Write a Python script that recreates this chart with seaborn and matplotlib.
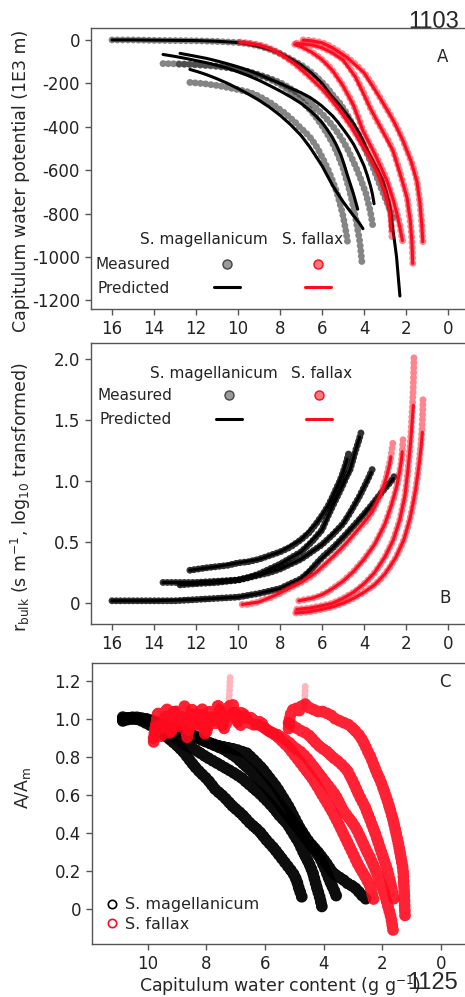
import numpy as np
import pandas as pd
import matplotlib
matplotlib.use("Agg")
import matplotlib.pyplot as plt
import seaborn as sns
from matplotlib.lines import Line2D

# ---------------- Panel A: capitulum water potential (1E3 m) ----------------
a_mag_meas_x = [
    [16, 15, 14, 13, 12, 11, 10, 9.5, 9, 8.5, 8, 7.5, 7, 6.7, 6.43, 6.1, 5.8, 5.5, 5.14, 4.85, 4.6, 4.35, 4.1, 3.85, 3.6, 3.4, 3.2, 3.05, 2.9, 2.8, 2.7, 2.62, 2.55],
    [13.57, 13, 12.5, 12, 11.5, 11, 10.6, 10.24, 9.9, 9.5, 9.1, 8.62, 8.3, 8, 7.76, 7.52, 7.25, 7, 6.78, 6.57, 6.3, 6, 5.75, 5.5, 5.25, 5, 4.8, 4.6, 4.4, 4.2, 4.05, 3.9, 3.8, 3.7, 3.63, 3.57],
    [12.8, 12.4, 12, 11.5, 11, 10.5, 10, 9.5, 9, 8.5, 8, 7.5, 7, 6.75, 6.5, 6.25, 6, 5.75, 5.5, 5.25, 5, 4.85, 4.7, 4.55, 4.4, 4.3, 4.2, 4.15, 4.1],
    [12.29, 11.9, 11.5, 11, 10.6, 10.2, 9.8, 9.43, 9.1, 8.8, 8.45, 8.14, 7.8, 7.5, 7.25, 7.05, 6.8, 6.57, 6.3, 6.1, 5.9, 5.7, 5.5, 5.3, 5.15, 5.0, 4.88, 4.76],
]
a_mag_meas_y = [
    [0, 0, -2, -3, -4, -7, -12, -18, -28, -43, -62, -88, -115, -135, -155, -185, -215, -252, -293, -335, -380, -425, -470, -525, -580, -630, -680, -715, -750, -775, -800, -820, -840],
    [-109, -110, -111, -113, -116, -120, -125, -131, -138, -148, -160, -173, -184, -196, -209, -223, -239, -255, -271, -288, -312, -340, -367, -395, -428, -465, -500, -540, -583, -630, -670, -710, -750, -790, -828, -864],
    [-112, -113, -115, -118, -122, -128, -135, -146, -160, -180, -205, -238, -280, -304, -330, -361, -395, -433, -475, -528, -590, -640, -690, -750, -820, -875, -930, -975, -1025],
    [-196, -199, -203, -210, -217, -225, -233, -242, -255, -270, -290, -311, -335, -360, -382, -403, -425, -449, -485, -520, -558, -600, -648, -700, -752, -810, -870, -945],
]
a_mag_pred_x = [
    [16, 15, 14, 13, 12, 11, 10, 9.5, 9, 8.5, 8, 7.5, 7, 6.5, 6, 5.62, 5.3, 5, 4.75, 4.5, 4.25, 4.05, 3.8, 3.5, 3.3, 3.1, 2.95, 2.8, 2.7, 2.62, 2.53, 2.45, 2.37, 2.29],
    [13.57, 13, 12.5, 12, 11.5, 11, 10.5, 10, 9.5, 9, 8.5, 8, 7.5, 7, 6.57, 6.3, 6, 5.75, 5.5, 5.3, 5.1, 4.95, 4.8, 4.65, 4.5, 4.4, 4.3],
    [12.76, 12.2, 11.5, 11, 10.5, 10, 9.5, 9, 8.5, 8, 7.5, 7, 6.57, 6.3, 6, 5.75, 5.5, 5.25, 5, 4.75, 4.5, 4.25, 4.0, 3.85, 3.7, 3.6, 3.52],
    [12.29, 11.9, 11.5, 11, 10.5, 10, 9.5, 9, 8.5, 8, 7.5, 7, 6.57, 6.3, 6, 5.75, 5.5, 5.25, 5, 4.75, 4.5, 4.25, 4.05],
]
a_mag_pred_y = [
    [0, 0, -1, -2, -3, -6, -12, -19, -30, -44, -62, -86, -115, -153, -200, -250, -285, -320, -352, -385, -425, -463, -515, -570, -607, -647, -695, -750, -810, -878, -940, -1000, -1090, -1180],
    [-67, -76, -85, -95, -105, -117, -130, -147, -165, -186, -210, -235, -262, -292, -325, -350, -380, -413, -450, -487, -530, -573, -620, -665, -710, -745, -780],
    [-62, -72, -85, -97, -110, -124, -140, -159, -180, -200, -222, -243, -265, -283, -305, -327, -350, -378, -410, -443, -480, -527, -580, -622, -670, -710, -755],
    [-136, -147, -160, -179, -200, -224, -250, -278, -310, -347, -390, -440, -495, -535, -580, -625, -670, -708, -745, -778, -810, -840, -870],
]
a_fal_meas_x = [
    [9.9, 9.7, 9.5, 9.25, 9, 8.75, 8.5, 8.2, 7.86, 7.6, 7.3, 7.0, 6.7, 6.35, 6, 5.8, 5.6, 5.37, 5.14, 4.87, 4.6, 4.35, 4.1, 3.9, 3.71, 3.5, 3.3, 3.15, 3.0, 2.88, 2.76, 2.72, 2.7, 2.67],
    [7.3, 7.15, 7, 6.75, 6.5, 6.25, 6, 5.75, 5.5, 5.25, 5, 4.75, 4.5, 4.27, 4.05, 3.8, 3.5, 3.2, 2.9, 2.7, 2.5, 2.4, 2.3, 2.22, 2.14],
    [7.2, 6.85, 6.5, 6.25, 6, 5.5, 5, 4.7, 4.4, 4.05, 3.71, 3.4, 3.1, 2.85, 2.62, 2.4, 2.2, 2.07, 1.95, 1.85, 1.75, 1.7, 1.67],
    [6.9, 6.7, 6.5, 6.25, 6, 5.75, 5.5, 5.15, 4.8, 4.4, 4, 3.6, 3.24, 2.9, 2.6, 2.35, 2.14, 1.95, 1.75, 1.6, 1.48, 1.38, 1.3, 1.24, 1.19],
]
a_fal_meas_y = [
    [-10, -12, -14, -18, -22, -29, -38, -52, -71, -89, -110, -134, -160, -192, -225, -247, -270, -297, -325, -362, -400, -440, -480, -510, -541, -580, -620, -660, -700, -742, -786, -820, -850, -910],
    [-20, -25, -30, -41, -55, -71, -90, -113, -140, -173, -210, -253, -300, -355, -417, -465, -520, -580, -647, -710, -770, -810, -850, -895, -938],
    [-15, -18, -22, -28, -35, -58, -90, -125, -170, -235, -311, -370, -420, -462, -508, -572, -640, -682, -725, -795, -880, -960, -1048],
    [0, -1, -3, -7, -12, -22, -35, -55, -80, -112, -150, -205, -265, -320, -370, -418, -463, -510, -560, -605, -650, -715, -790, -860, -938],
]
a_fal_pred_x = [
    [9.9, 9.5, 9, 8.5, 7.86, 7.3, 6.7, 6, 5.6, 5.14, 4.6, 4.1, 3.71, 3.3, 3.0, 2.88, 2.78, 2.72],
    [7.3, 7, 6.5, 6, 5.5, 5, 4.5, 4.05, 3.5, 2.9, 2.6, 2.4, 2.26, 2.17],
    [7.2, 6.5, 6, 5.5, 5, 4.4, 3.71, 3.1, 2.62, 2.2, 1.95, 1.8, 1.72, 1.68],
    [6.9, 6.5, 6, 5.5, 4.8, 4, 3.24, 2.6, 2.14, 1.75, 1.48, 1.34, 1.25, 1.2],
]
a_fal_pred_y = [
    [-11, -15, -23, -39, -72, -111, -161, -226, -271, -327, -402, -483, -545, -625, -705, -748, -800, -880],
    [-21, -31, -56, -91, -141, -211, -302, -419, -523, -650, -740, -815, -880, -925],
    [-16, -23, -36, -60, -92, -172, -313, -423, -511, -643, -728, -830, -930, -1030],
    [-1, -4, -13, -36, -81, -151, -267, -372, -465, -562, -652, -750, -850, -930],
]

# ---------------- Panel B: r_bulk (log10 transformed) ----------------
b_mag_meas_x = [
    [16, 15, 14, 13, 12, 11, 10, 9.5, 9, 8.5, 8, 7.5, 7, 6.6, 6.24, 5.9, 5.5, 5.1, 4.67, 4.3, 4, 3.7, 3.38, 3.1, 2.9, 2.7, 2.52],
    [13.57, 13, 12, 11, 10, 9.5, 9, 8.5, 8, 7.5, 7, 6.5, 6, 5.5, 5, 4.7, 4.4, 4.2, 4, 3.8, 3.57],
    [12.76, 12, 11, 10, 9.5, 9, 8.5, 8, 7.5, 7, 6.5, 6, 5.75, 5.48, 5.25, 5, 4.85, 4.67, 4.55, 4.4, 4.25, 4.1],
    [12.29, 11.5, 11, 10.5, 10, 9.5, 9, 8.5, 8, 7.5, 7, 6.6, 6.24, 5.95, 5.7, 5.5, 5.29, 5.15, 5.0, 4.85, 4.71],
]
b_mag_meas_y = [
    [0.02, 0.02, 0.02, 0.02, 0.03, 0.04, 0.05, 0.065, 0.08, 0.1, 0.12, 0.16, 0.2, 0.26, 0.33, 0.39, 0.45, 0.52, 0.6, 0.67, 0.73, 0.79, 0.86, 0.92, 0.96, 1.0, 1.05],
    [0.17, 0.17, 0.17, 0.18, 0.19, 0.21, 0.23, 0.25, 0.28, 0.32, 0.36, 0.42, 0.48, 0.56, 0.65, 0.73, 0.82, 0.88, 0.95, 1.02, 1.11],
    [0.15, 0.16, 0.17, 0.19, 0.21, 0.24, 0.28, 0.32, 0.37, 0.42, 0.5, 0.6, 0.7, 0.8, 0.88, 0.97, 1.03, 1.09, 1.16, 1.25, 1.33, 1.42],
    [0.27, 0.29, 0.3, 0.31, 0.33, 0.34, 0.36, 0.39, 0.42, 0.46, 0.52, 0.58, 0.66, 0.73, 0.8, 0.87, 0.95, 1.0, 1.07, 1.15, 1.24],
]
b_mag_pred_x = [
    [16, 14, 12, 10, 9, 8, 7, 6.24, 5.5, 4.67, 4, 3.38, 2.9, 2.6],
    [13.57, 12, 10, 9, 8, 7, 6, 5, 4.4, 4, 3.65],
    [12.76, 11, 10, 9, 8, 7, 6, 5.48, 5, 4.67, 4.4, 4.2],
    [12.29, 11, 10, 9, 8, 7, 6.24, 5.7, 5.29, 5.0, 4.8],
]
b_mag_pred_y = [
    [0.02, 0.02, 0.03, 0.05, 0.08, 0.12, 0.2, 0.33, 0.45, 0.6, 0.73, 0.86, 0.96, 1.02],
    [0.17, 0.17, 0.19, 0.23, 0.28, 0.36, 0.48, 0.65, 0.82, 0.95, 1.07],
    [0.15, 0.17, 0.19, 0.24, 0.32, 0.42, 0.6, 0.8, 0.97, 1.09, 1.25, 1.36],
    [0.27, 0.3, 0.33, 0.36, 0.42, 0.52, 0.66, 0.8, 0.95, 1.07, 1.18],
]
b_fal_meas_x = [
    [9.8, 9.5, 9.3, 9, 8.8, 8.5, 8.3, 8, 7.7, 7.35, 7, 6.6, 6.3, 5.9, 5.48, 5.1, 4.8, 4.5, 4.2, 3.86, 3.6, 3.4, 3.2, 3.1, 2.95, 2.85, 2.75, 2.7, 2.66, 2.62],
    [7.1, 6.8, 6.5, 6.25, 6, 5.75, 5.5, 5.25, 5, 4.75, 4.5, 4.25, 4, 3.75, 3.5, 3.25, 3, 2.85, 2.7, 2.57, 2.45, 2.37, 2.3, 2.24, 2.2, 2.17, 2.14],
    [7.2, 6.9, 6.6, 6.3, 6, 5.75, 5.5, 5.25, 5, 4.75, 4.5, 4.25, 4, 3.75, 3.5, 3.25, 3, 2.8, 2.6, 2.45, 2.3, 2.17, 2.05, 1.97, 1.9, 1.84, 1.78, 1.74, 1.7, 1.67, 1.65, 1.63, 1.62],
    [7.25, 6.9, 6.6, 6.3, 6, 5.75, 5.5, 5.25, 5, 4.75, 4.5, 4.25, 4, 3.75, 3.5, 3.25, 3, 2.75, 2.5, 2.3, 2.1, 1.95, 1.8, 1.67, 1.55, 1.46, 1.38, 1.32, 1.27, 1.24, 1.22, 1.2, 1.19],
]
b_fal_meas_y = [
    [-0.01, -0.01, 0.0, 0.01, 0.03, 0.04, 0.06, 0.08, 0.11, 0.14, 0.17, 0.21, 0.25, 0.31, 0.38, 0.44, 0.5, 0.56, 0.62, 0.68, 0.75, 0.82, 0.89, 0.95, 1.02, 1.1, 1.17, 1.22, 1.27, 1.32],
    [0.02, 0.03, 0.04, 0.05, 0.07, 0.09, 0.12, 0.15, 0.18, 0.22, 0.26, 0.31, 0.36, 0.42, 0.48, 0.56, 0.65, 0.72, 0.8, 0.87, 0.95, 1.01, 1.08, 1.14, 1.2, 1.27, 1.34],
    [-0.05, -0.045, -0.04, -0.03, -0.02, -0.01, 0.0, 0.02, 0.04, 0.065, 0.09, 0.12, 0.16, 0.2, 0.25, 0.31, 0.38, 0.45, 0.52, 0.6, 0.68, 0.78, 0.88, 0.99, 1.1, 1.22, 1.35, 1.47, 1.6, 1.7, 1.8, 1.92, 2.03],
    [-0.08, -0.075, -0.07, -0.06, -0.05, -0.04, -0.03, -0.015, 0.0, 0.02, 0.04, 0.065, 0.09, 0.12, 0.15, 0.19, 0.24, 0.3, 0.37, 0.44, 0.52, 0.6, 0.7, 0.8, 0.92, 1.03, 1.15, 1.25, 1.35, 1.42, 1.5, 1.58, 1.68],
]
b_fal_pred_x = [
    [9.8, 9, 8.3, 7.7, 7, 6.3, 5.48, 4.8, 4.2, 3.6, 3.2, 2.95, 2.8, 2.72],
    [7.1, 6.5, 6, 5.5, 5, 4.5, 4, 3.5, 3, 2.7, 2.45, 2.3, 2.22, 2.18],
    [7.2, 6.6, 6, 5.5, 5, 4.5, 4, 3.5, 3, 2.6, 2.3, 2.05, 1.9, 1.78, 1.7, 1.65],
    [7.25, 6.6, 6, 5.5, 5, 4.5, 4, 3.5, 3, 2.5, 2.1, 1.8, 1.55, 1.38, 1.28, 1.22],
]
b_fal_pred_y = [
    [-0.01, 0.01, 0.06, 0.11, 0.17, 0.25, 0.38, 0.5, 0.62, 0.75, 0.89, 1.02, 1.12, 1.2],
    [0.02, 0.04, 0.07, 0.12, 0.18, 0.26, 0.36, 0.48, 0.65, 0.8, 0.95, 1.08, 1.17, 1.24],
    [-0.05, -0.04, -0.02, 0.0, 0.04, 0.09, 0.16, 0.25, 0.38, 0.52, 0.68, 0.88, 1.1, 1.32, 1.5, 1.62],
    [-0.08, -0.07, -0.05, -0.03, 0.0, 0.04, 0.09, 0.15, 0.24, 0.37, 0.52, 0.7, 0.92, 1.13, 1.28, 1.4],
]

# ---------------- Panel C: A/Am ----------------
c_mag_x = [
    [10.85, 10.5, 10.2, 9.95, 9.7, 9.5, 9.3, 9.0, 8.8, 8.6, 8.4, 8.22, 7.95, 7.7, 7.4, 7.1, 6.8, 6.5, 6.2, 5.94, 5.7, 5.5, 5.25, 5.05, 4.92, 4.85, 4.78, 4.74],
    [10.85, 10.4, 10.0, 9.8, 9.6, 9.3, 9.05, 8.8, 8.4, 8.0, 7.55, 7.1, 6.8, 6.5, 6.2, 5.94, 5.7, 5.5, 5.25, 5.05, 4.85, 4.7, 4.5, 4.37, 4.25, 4.15, 4.06],
    [10.85, 10.4, 10.0, 9.5, 9.0, 8.5, 8.0, 7.6, 7.3, 7.0, 6.62, 6.35, 6.1, 5.85, 5.6, 5.2, 4.83, 4.5, 4.13, 3.95, 3.8, 3.65, 3.55],
    [10.85, 10.3, 9.8, 9.4, 9.0, 8.5, 8.0, 7.4, 7.0, 6.5, 6.0, 5.5, 5.0, 4.6, 4.2, 3.95, 3.69, 3.5, 3.3, 3.15, 3.0, 2.85, 2.75, 2.62, 2.53],
]
c_mag_y = [
    [1.0, 1.01, 0.99, 0.97, 0.95, 0.92, 0.9, 0.86, 0.83, 0.79, 0.75, 0.72, 0.68, 0.63, 0.59, 0.54, 0.5, 0.45, 0.41, 0.36, 0.32, 0.28, 0.23, 0.19, 0.15, 0.11, 0.08, 0.06],
    [1.01, 1.0, 0.99, 0.98, 0.96, 0.93, 0.9, 0.87, 0.84, 0.8, 0.76, 0.72, 0.69, 0.65, 0.61, 0.57, 0.53, 0.49, 0.45, 0.4, 0.35, 0.3, 0.24, 0.19, 0.12, 0.07, 0.01],
    [0.99, 1.01, 1.0, 0.97, 0.95, 0.92, 0.88, 0.86, 0.85, 0.84, 0.82, 0.78, 0.74, 0.69, 0.64, 0.54, 0.43, 0.35, 0.27, 0.21, 0.15, 0.1, 0.06],
    [1.0, 1.0, 0.99, 0.96, 0.94, 0.91, 0.88, 0.84, 0.8, 0.73, 0.65, 0.55, 0.45, 0.37, 0.3, 0.25, 0.19, 0.17, 0.15, 0.13, 0.12, 0.1, 0.08, 0.06, 0.05],
]
c_fal_x = [
    [9.8, 9.65, 9.5, 9.35, 9.2, 9.05, 8.9, 8.75, 8.6, 8.45, 8.3, 8.15, 8.0, 7.85, 7.7, 7.55, 7.4, 7.2, 7.0, 6.85, 6.7, 6.55, 6.4, 6.18, 6.0, 5.8, 5.6, 5.4, 5.2, 5.05, 4.8, 4.6, 4.4, 4.2, 4.05, 3.89, 3.7, 3.5, 3.25, 3.0, 2.85, 2.7, 2.55, 2.42, 2.3],
    [9.8, 9.7, 9.55, 9.4, 9.25, 9.1, 8.95, 8.8, 8.65, 8.5, 8.35, 8.2, 8.05, 7.9, 7.75, 7.6, 7.45, 7.3, 7.1, 6.95, 6.8, 6.6, 6.45, 6.3, 6.15, 6.0, 5.8, 5.6, 5.4, 5.2, 5.0, 4.8, 4.6, 4.4, 4.2, 4.0, 3.8, 3.6, 3.34, 3.15, 3.0, 2.85, 2.7, 2.55, 2.42, 2.25, 2.1, 1.95, 1.84, 1.75, 1.7, 1.64],
    [5.2, 5.15, 5.05, 4.95, 4.85, 4.75, 4.64, 4.5, 4.35, 4.2, 4.05, 3.89, 3.75, 3.6, 3.45, 3.3, 3.15, 3.0, 2.88, 2.76, 2.62, 2.5, 2.4, 2.3, 2.2, 2.08, 1.96, 1.85, 1.75, 1.64, 1.55, 1.45, 1.38, 1.3, 1.27, 1.25, 1.23],
    [5.2, 5.1, 5.0, 4.9, 4.8, 4.65, 4.47, 4.3, 4.1, 3.9, 3.7, 3.45, 3.2, 3.0, 2.8, 2.6, 2.42, 2.25, 2.1, 1.97, 1.84, 1.76, 1.7, 1.65, 1.6],
]
c_fal_y = [
    [0.9, 1.04, 0.95, 1.06, 0.93, 1.05, 0.97, 1.07, 0.94, 1.03, 0.96, 1.06, 0.93, 1.02, 0.97, 1.05, 0.95, 1.02, 1.04, 0.96, 1.02, 0.98, 0.97, 0.97, 0.95, 0.93, 0.91, 0.88, 0.85, 0.82, 0.77, 0.73, 0.69, 0.64, 0.6, 0.56, 0.51, 0.45, 0.37, 0.29, 0.24, 0.2, 0.16, 0.12, 0.05],
    [0.88, 0.97, 0.9, 1.02, 0.92, 1.05, 0.95, 1.02, 0.9, 1.06, 0.97, 1.03, 0.92, 1.04, 0.98, 1.08, 0.96, 1.06, 1.08, 0.98, 1.04, 1.0, 1.01, 0.97, 0.99, 0.95, 0.93, 0.92, 0.9, 0.88, 0.85, 0.83, 0.8, 0.76, 0.72, 0.68, 0.64, 0.6, 0.52, 0.48, 0.45, 0.41, 0.36, 0.31, 0.27, 0.21, 0.15, 0.09, 0.03, -0.02, -0.05, -0.11],
    [0.95, 1.02, 1.05, 1.06, 1.04, 1.07, 1.08, 1.06, 1.05, 1.04, 1.04, 1.03, 1.02, 1.0, 0.99, 0.98, 0.97, 0.95, 0.93, 0.91, 0.87, 0.83, 0.8, 0.76, 0.72, 0.68, 0.63, 0.58, 0.53, 0.47, 0.41, 0.34, 0.28, 0.21, 0.13, 0.05, -0.04],
    [0.98, 0.97, 0.96, 0.95, 0.94, 0.93, 0.91, 0.88, 0.85, 0.83, 0.8, 0.77, 0.73, 0.67, 0.6, 0.54, 0.47, 0.4, 0.33, 0.27, 0.21, 0.16, 0.12, 0.08, 0.05],
]
c_fal_spike_x = [[7.25, 7.23, 7.21, 7.2, 7.19], [4.66, 4.65, 4.64, 4.63]]
c_fal_spike_y = [[1.04, 1.1, 1.16, 1.2, 1.23], [1.06, 1.1, 1.14, 1.18]]

xticks_ab = [16, 14, 12, 10, 8, 6, 4, 2, 0]
yticks_a = [0, -200, -400, -600, -800, -1000, -1200]
yticks_b = [0, 0.5, 1.0, 1.5, 2.0]
yticklabels_b = ["0", "0.5", "1.0", "1.5", "2.0"]
xticks_c = [10, 8, 6, 4, 2, 0]
yticks_c = [0, 0.2, 0.4, 0.6, 0.8, 1.0, 1.2]
yticklabels_c = ["0", "0.2", "0.4", "0.6", "0.8", "1.0", "1.2"]

RED = "#ff0a1e"


def long_df(xs, ys):
    frames = []
    for i, (x, y) in enumerate(zip(xs, ys)):
        frames.append(pd.DataFrame({"x": x, "y": y, "unit": i}))
    return pd.concat(frames, ignore_index=True)


def dots(ax, xs, ys, color, alpha, lw, gap):
    sns.lineplot(data=long_df(xs, ys), x="x", y="y", units="unit", estimator=None,
                 sort=False, color=color, alpha=alpha, lw=lw,
                 linestyle=(0, (0.01, gap)), dash_capstyle="round",
                 legend=False, ax=ax)


def lines(ax, xs, ys, color, lw=2.2):
    sns.lineplot(data=long_df(xs, ys), x="x", y="y", units="unit", estimator=None,
                 sort=False, color=color, lw=lw, legend=False, ax=ax)


sns.set_style("ticks")
plt.rcParams["font.family"] = ["DejaVu Sans"]
plt.rcParams["axes.unicode_minus"] = False
plt.rcParams["axes.edgecolor"] = "#555555"
plt.rcParams["xtick.color"] = "#555555"
plt.rcParams["ytick.color"] = "#555555"
plt.rcParams["xtick.labelcolor"] = "#222222"
plt.rcParams["ytick.labelcolor"] = "#222222"

W, H = 465, 997
fig = plt.figure(figsize=(W / 100, H / 100), dpi=100)


def add_axes(left, top, right, bottom):
    return fig.add_axes([left / W, 1 - bottom / H, (right - left) / W, (bottom - top) / H])


axA = add_axes(91, 28, 469, 309)
axB = add_axes(91, 343, 469, 624)
axC = add_axes(92, 663, 469, 944)

# ---- A ----
dots(axA, a_mag_meas_x, a_mag_meas_y, "#222222", 0.55, 5.0, 0.75)
lines(axA, a_mag_pred_x, a_mag_pred_y, "black")
dots(axA, a_fal_meas_x, a_fal_meas_y, RED, 0.5, 5.0, 0.75)
lines(axA, a_fal_pred_x, a_fal_pred_y, RED)
axA.set_xlim(17, -1)
axA.set_ylim(-1240, 55)
axA.set_xticks(xticks_ab)
axA.set_xticklabels([str(v) for v in xticks_ab])
axA.set_yticks(yticks_a)
axA.set_yticklabels([str(v) for v in yticks_a])
axA.set_xlabel("")
axA.set_ylabel("Capitulum water potential (1E3 m)", fontsize=12.5)
axA.yaxis.set_label_coords(-0.161, 0.457)
axA.text(0.929, 0.897, "A", transform=axA.transAxes, fontsize=12, ha="center", va="center")

# ---- B ----
dots(axB, b_mag_meas_x, b_mag_meas_y, "black", 0.8, 5.0, 0.6)
lines(axB, b_mag_pred_x, b_mag_pred_y, "black")
dots(axB, b_fal_meas_x, b_fal_meas_y, RED, 0.5, 5.0, 0.7)
lines(axB, b_fal_pred_x, b_fal_pred_y, RED)
axB.set_xlim(17, -1)
axB.set_ylim(-0.17, 2.13)
axB.set_xticks(xticks_ab)
axB.set_xticklabels([str(v) for v in xticks_ab])
axB.set_yticks(yticks_b)
axB.set_yticklabels(yticklabels_b)
axB.set_xlabel("")
axB.set_ylabel(r"r$_{\mathrm{bulk}}$ (s m$^{-1}$, log$_{10}$ transformed)", fontsize=12.5)
axB.yaxis.set_label_coords(-0.153, 0.452)
axB.text(0.937, 0.093, "B", transform=axB.transAxes, fontsize=12, ha="center", va="center")

# legends for A and B
for ax, anchor, hdr_y, hdr_x1, hdr_x2 in [
    (axA, (-0.005, 0.207), 0.249, 0.299, 0.585),
    (axB, (0.0, 0.860), 0.893, 0.325, 0.611),
]:
    h_mm = Line2D([], [], ls="none", marker="o", markersize=6.5, markerfacecolor="#9a9a9a",
                  markeredgecolor="#444444", markeredgewidth=1.0)
    h_mp = Line2D([], [], color="black", lw=2.2)
    h_fm = Line2D([], [], ls="none", marker="o", markersize=6.5, markerfacecolor="#f47a7a",
                  markeredgecolor=RED, markeredgewidth=1.0)
    h_fp = Line2D([], [], color=RED, lw=2.2)
    ax.legend(handles=[h_mm, h_mp, h_fm, h_fp], labels=["Measured", "Predicted", "", ""],
              ncol=2, markerfirst=False, frameon=False, fontsize=11,
              handlelength=1.7, handletextpad=2.9, columnspacing=1.3,
              labelspacing=0.58, loc="upper left", bbox_to_anchor=anchor,
              borderaxespad=0)
    ax.text(hdr_x1, hdr_y, "S. magellanicum", transform=ax.transAxes, fontsize=11,
            ha="center", va="center", color="#222222")
    ax.text(hdr_x2, hdr_y, "S. fallax", transform=ax.transAxes, fontsize=11,
            ha="center", va="center", color="#222222")

# ---- C ----
dots(axC, c_mag_x, c_mag_y, "black", 0.95, 8.5, 0.4)
dots(axC, c_fal_x, c_fal_y, RED, 0.9, 8.5, 0.4)
dots(axC, c_fal_spike_x, c_fal_spike_y, RED, 0.3, 5.0, 0.6)
axC.set_xlim(11.9, -0.95)
axC.set_ylim(-0.184, 1.295)
axC.set_xticks(xticks_c)
axC.set_xticklabels([str(v) for v in xticks_c])
axC.set_yticks(yticks_c)
axC.set_yticklabels(yticklabels_c)
axC.set_ylabel(r"A/A$_{\mathrm{m}}$", fontsize=12.5)
axC.yaxis.set_label_coords(-0.156, 0.555)
axC.set_xlabel(r"Capitulum water content (g g$^{-1}$)", fontsize=12.5)
axC.xaxis.set_label_coords(0.5, -0.105)
axC.text(0.936, 0.932, "C", transform=axC.transAxes, fontsize=12, ha="center", va="center")
hc1 = Line2D([], [], ls="none", marker="o", markersize=6, markerfacecolor="none",
             markeredgecolor="black", markeredgewidth=1.2)
hc2 = Line2D([], [], ls="none", marker="o", markersize=6, markerfacecolor="none",
             markeredgecolor=RED, markeredgewidth=1.2)
axC.legend(handles=[hc1, hc2], labels=["S. magellanicum", "S. fallax"], frameon=False,
           fontsize=11.5, handlelength=0.8, handletextpad=0.4, labelspacing=0.3,
           loc="lower left", bbox_to_anchor=(0.02, 0.02), borderaxespad=0)

for ax in (axA, axB, axC):
    ax.tick_params(labelsize=12, length=4.5, width=1)
    for s in ax.spines.values():
        s.set_linewidth(1.0)

fig.text(434 / W, 1 - 11 / H, "1103", fontsize=17, ha="center", va="top",
         family=["Liberation Sans"], zorder=-1)
fig.text(433 / W, 1 - 983 / H, "1125", fontsize=17, ha="center", va="center",
         family=["Liberation Sans"], zorder=5)

fig.savefig("out.png", dpi=100)
